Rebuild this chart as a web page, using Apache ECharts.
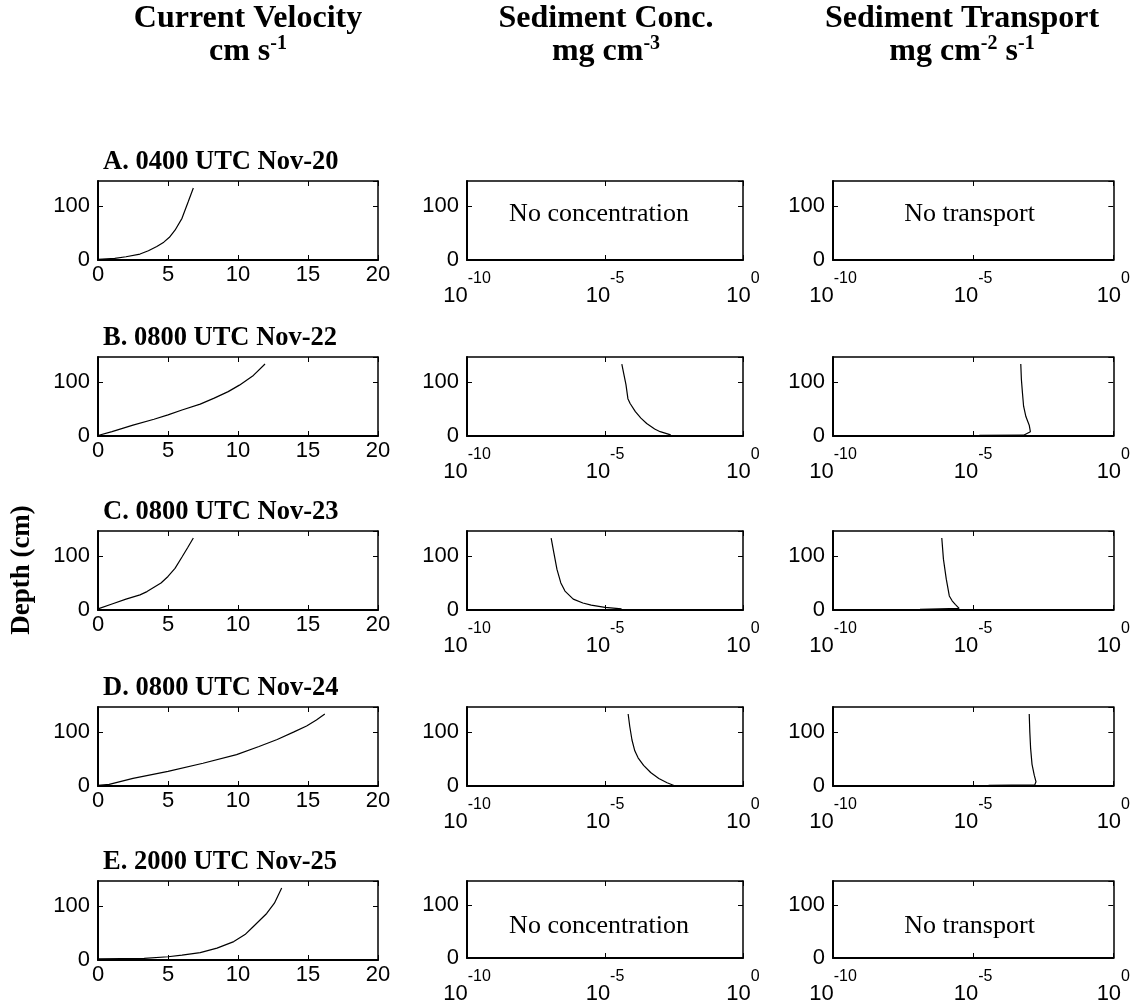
<!DOCTYPE html>
<html><head><meta charset="utf-8">
<script src="https://cdn.jsdelivr.net/npm/echarts@6/dist/echarts.min.js"></script>
<style>html,body{margin:0;padding:0;background:#fff}#c{width:1133px;height:1005px}</style>
</head><body><div id="c"></div>
<script>
// ---- data ----
const rowTitles = ['A. 0400 UTC Nov-20','B. 0800 UTC Nov-22','C. 0800 UTC Nov-23','D. 0800 UTC Nov-24','E. 2000 UTC Nov-25'];
const velTicks = [0,5,10,15,20];
const depthTicks = [0,100];
const logTickExponents = [-10,-5,0];

const velA_u = [0,1.2,2,3,3.6,4.2,4.7,5.1,5.5,6,6.45,6.81];
const velA_z = [1,3,6,11,17,25,33,42,55,77,108,133];
const velB_u = [0,1,2.5,4,5,6,7.3,8.3,9.3,10.1,11.1,11.93];
const velB_z = [1,8,20,31,39,48,59,70,82,94,112,133];
const velC_u = [0,1,2,3,3.5,4,4.5,5,5.5,6,6.4,6.81];
const velC_z = [2,11,20,28,34,42,50,62,77,98,115,133];
const velD_u = [0,0.8,2.5,5,7.5,9.9,11.5,12.8,14,14.9,15.6,16.2];
const velD_z = [1,3,14,27,42,58,73,86,100,111,122,133];
const velE_u = [0,3.3,5,6,7.3,8.5,9.7,10.5,11.1,12.05,12.6,13.12];
const velE_z = [2,3,6,9,13.5,22,34,47,62,86,105,133];

const concB_c = [4.07e-5,4.79e-5,5.75e-5,6.76e-5,8.13e-5,1.26e-4,2.0e-4,3.24e-4,6.3e-4,1.0e-3,2.4e-3];
const concB_z = [133,115,95,69,60,45,33,23,13,8,2];
const concC_c = [1.12e-7,1.41e-7,1.82e-7,2.51e-7,3.55e-7,7.08e-7,1.58e-6,3.16e-6,1.0e-5,3.98e-5];
const concC_z = [133,105,75,50,35,20,13,9,5,2];
const concD_c = [6.9e-5,7.9e-5,9.5e-5,1.2e-4,1.58e-4,2.5e-4,4.5e-4,8.9e-4,1.78e-3,3.16e-3];
const concD_z = [133,110,85,65,52,38,25,14,6,1];

const tranB_q = [1.66e-5,6.3e-4,1.1e-3,1.0e-3,7.6e-4,6.3e-4,5.75e-4,5.25e-4,5.0e-4];
const tranB_z = [1,1.5,8,20,36,55,79,105,133];
const tranC_q = [1.26e-7,3.16e-6,2.34e-6,1.78e-6,1.41e-6,1.1e-6,8.7e-7,7.6e-7];
const tranC_z = [1,3,10,17,26,57,94,133];
const tranD_q = [3.55e-5,1.58e-3,1.74e-3,1.51e-3,1.26e-3,1.12e-3,1.05e-3,1.0e-3];
const tranD_z = [1,2,8,20,40,70,100,133];

const velProfiles = [[velA_u,velA_z],[velB_u,velB_z],[velC_u,velC_z],[velD_u,velD_z],[velE_u,velE_z]];
const concProfiles = [null,[concB_c,concB_z],[concC_c,concC_z],[concD_c,concD_z],null];
const tranProfiles = [null,[tranB_q,tranB_z],[tranC_q,tranC_z],[tranD_q,tranD_z],null];

// ---- layout ----
const rowTop = [181,357,531,707,881];
const rowH = 79;
const colLeft = [98,467,833];
const colW = [280,276,281];
const DEPTH_MAX = 146;
const SANS = "'Liberation Sans',Arial,sans-serif";
const SERIF = "'Liberation Serif','Times New Roman',serif";
const LBL = 22;

const grids = [], xAxes = [], yAxes = [], series = [], graphics = [];
const lineW = 1.2;

// log axes are drawn on a decade (exponent) scale: value axis of log10(x)
function pairs(a,b,isLog){ return a.map((v,i)=>[isLog ? Math.log10(v) : v, b[i]]); }

for (let r=0;r<5;r++){
  for (let c=0;c<3;c++){
    const g = grids.length;
    grids.push({left:colLeft[c], top:rowTop[r], width:colW[c], height:rowH, containLabel:false});
    const isLog = c>0;
    const baseX = isLog ? {type:'value', min:logTickExponents[0], max:logTickExponents[2], interval:5}
                        : {type:'value', min:velTicks[0], max:velTicks[velTicks.length-1], interval:5};
    xAxes.push(Object.assign({}, baseX, {
      gridIndex:g, position:'bottom',
      axisLine:{show:true, onZero:false, lineStyle:{color:'#000', width:2}},
      axisTick:{show:true, inside:true, length:5, lineStyle:{color:'#000', width:1}},
      splitLine:{show:false}, minorTick:{show:false},
      axisLabel: isLog ? {
        show:true, margin:23, color:'#000', showMinLabel:true, showMaxLabel:true,
        formatter: v => '{b|10}{e|' + Math.round(v) + '}',
        rich:{
          b:{fontFamily:SANS, fontSize:LBL, lineHeight:24, verticalAlign:'bottom', color:'#000'},
          e:{fontFamily:SANS, fontSize:16, lineHeight:18, padding:[0,0,20,0], verticalAlign:'bottom', color:'#000'}
        }
      } : {show:true, margin:4, color:'#000', fontFamily:SANS, fontSize:LBL, showMinLabel:true, showMaxLabel:true}
    }));
    xAxes.push(Object.assign({}, baseX, {
      gridIndex:g, position:'top',
      axisLine:{show:true, onZero:false, lineStyle:{color:'#000', width:1.5}},
      axisTick:{show:true, inside:true, length:5, lineStyle:{color:'#000', width:1}},
      axisLabel:{show:false}, splitLine:{show:false}, minorTick:{show:false}
    }));
    const baseY = {type:'value', min:0, max:DEPTH_MAX, interval:100};
    yAxes.push(Object.assign({}, baseY, {
      gridIndex:g, position:'left',
      axisLine:{show:true, onZero:false, lineStyle:{color:'#000', width:2}},
      axisTick:{show:true, inside:true, length:5, lineStyle:{color:'#000', width:1}},
      axisLabel:{show:true, margin:8, color:'#000', fontFamily:SANS, fontSize:LBL, showMaxLabel:false,
        formatter: v => depthTicks.indexOf(v)>=0 ? String(v) : ''},
      splitLine:{show:false}
    }));
    yAxes.push(Object.assign({}, baseY, {
      gridIndex:g, position:'right',
      axisLine:{show:true, onZero:false, lineStyle:{color:'#000', width:1.5}},
      axisTick:{show:true, inside:true, length:5, lineStyle:{color:'#000', width:1}},
      axisLabel:{show:false}, splitLine:{show:false}
    }));
    let prof = c===0 ? velProfiles[r] : (c===1 ? concProfiles[r] : tranProfiles[r]);
    if (prof){
      series.push({type:'line', xAxisIndex:2*g, yAxisIndex:2*g, data:pairs(prof[0],prof[1],isLog),
        showSymbol:false, symbol:'none', smooth:false,
        clip:true, silent:true, animation:false,
        lineStyle:{color:'#000', width:lineW}});
    }
  }
  graphics.push({type:'text', left:103, top:rowTop[r]-32,
    style:{text:rowTitles[r], font:'bold 26.5px '+SERIF, fill:'#000'}});
}

// "No concentration"/"No transport" notes
const noteOffsets = [[0,33],[4,45]];
noteOffsets.forEach(([r,off])=>{
  graphics.push({type:'text', x:colLeft[1]+colW[1]/2-6, y:rowTop[r]+off,
    style:{text:'No concentration', font:'26px '+SERIF, fill:'#000', align:'center', verticalAlign:'middle'}});
  graphics.push({type:'text', x:colLeft[2]+colW[2]/2-4, y:rowTop[r]+off,
    style:{text:'No transport', font:'26px '+SERIF, fill:'#000', align:'center', verticalAlign:'middle'}});
});

// Column headers
const headerRich = {
  h:{fontFamily:SERIF, fontWeight:'bold', fontSize:32, lineHeight:32, color:'#000', verticalAlign:'bottom'},
  s:{fontFamily:SERIF, fontWeight:'bold', fontSize:20, lineHeight:20, padding:[0,0,14,0], color:'#000', verticalAlign:'bottom'}
};
const headers = [
  [248,'Current Velocity','{h|cm s}{s|-1}'],
  [606,'Sediment Conc.','{h|mg cm}{s|-3}'],
  [962,'Sediment Transport','{h|mg cm}{s|-2}{h| s}{s|-1}']
];
headers.forEach(([cx,l1,l2])=>{
  graphics.push({type:'text', x:cx, y:19, style:{text:l1, font:'bold 32px '+SERIF, fill:'#000', align:'center', verticalAlign:'middle'}});
  graphics.push({type:'text', x:cx, y:36, style:{text:l2, rich:headerRich, fill:'#000', align:'center', verticalAlign:'top'}});
});

graphics.push({type:'text', x:22, y:570, rotation:Math.PI/2,
  style:{text:'Depth (cm)', font:'bold 27px '+SERIF, fill:'#000', align:'center', verticalAlign:'middle'}});

const chart = echarts.init(document.getElementById('c'), null, {renderer:'canvas'});
chart.setOption({
  animation:false,
  backgroundColor:'#fff',
  grid:grids, xAxis:xAxes, yAxis:yAxes, series:series, graphic:graphics
});
</script></body></html>
